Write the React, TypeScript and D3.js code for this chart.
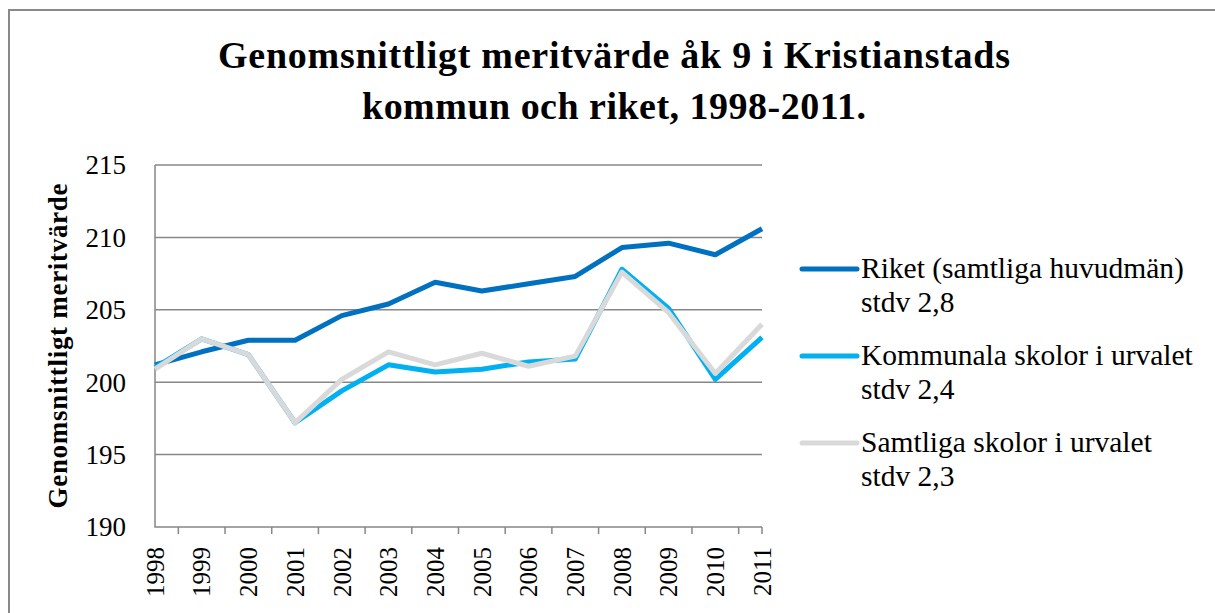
import React from "react";
import * as d3 from "d3";

// Data
const years = ["1998", "1999", "2000", "2001", "2002", "2003", "2004", "2005", "2006", "2007", "2008", "2009", "2010", "2011"];
const riket = [201.2, 202.1, 202.9, 202.9, 204.6, 205.4, 206.9, 206.3, 206.8, 207.3, 209.3, 209.6, 208.8, 210.6];
const kommunala = [201.0, 203.0, 201.9, 197.2, 199.4, 201.2, 200.7, 200.9, 201.4, 201.6, 207.8, 205.1, 200.2, 203.1];
const samtliga = [200.9, 203.0, 201.9, 197.2, 200.2, 202.1, 201.2, 202.0, 201.1, 201.8, 207.6, 204.8, 200.6, 204.0];
const yTicks = [190, 195, 200, 205, 210, 215];
const seriesNames = ["Riket (samtliga huvudmän)", "Kommunala skolor i urvalet", "Samtliga skolor i urvalet"];
const seriesStdv = ["stdv 2,8", "stdv 2,4", "stdv 2,3"];
const seriesColors = ["#0070C0", "#00B0F0", "#D9D9D9"];

const W = 1215;
const H = 613;
const serif = "Liberation Serif";
const gridColor = "#878787";

const left = 155, right = 762, top = 165, bottom = 527;
const x = d3.scalePoint<string>().domain(years).range([left, right]);
const y = d3.scaleLinear().domain([190, 215]).range([bottom, top]);
const line = d3.line<number>()
  .x((_, i) => x(years[i]) as number)
  .y(d => y(d));

export default function App() {
  const step = x.step();
  // ticks sit between categories, plus one at the far end
  const tickX = years.slice(0, -1).map(d => (x(d) as number) + step / 2).concat([right]);
  const legendY = [269, 356, 443];

  return (
    <svg width={W} height={H} style={{ position: "absolute", left: 0, top: 0, background: "#fff" }}>
      {/* outer chart border */}
      <path d={`M9,${H + 5}L9,10L${W + 5},10`} fill="none" stroke="#898989" strokeWidth={2} />

      {/* title */}
      <text textAnchor="middle" fontFamily={serif} fontWeight="bold" fontSize={38}>
        <tspan x={614} y={68} textLength={792} lengthAdjust="spacing">
          Genomsnittligt meritvärde åk 9 i Kristianstads
        </tspan>
        <tspan x={614} y={119} textLength={504} lengthAdjust="spacing">
          kommun och riket, 1998-2011.
        </tspan>
      </text>

      {/* gridlines */}
      {yTicks.filter(d => d > 190).map(d => (
        <line key={d} x1={left} x2={right} y1={y(d)} y2={y(d)} stroke={gridColor} strokeWidth={1.5} />
      ))}

      {/* y labels */}
      {yTicks.map(d => (
        <text key={d} x={126} y={y(d)} dy="0.35em" textAnchor="end" fontFamily={serif} fontSize={27}>
          {d}
        </text>
      ))}

      {/* y axis title */}
      <text
        transform={`translate(67, ${(top + bottom) / 2}) rotate(-90)`}
        textAnchor="middle"
        fontFamily={serif}
        fontWeight="bold"
        fontSize={27}
        textLength={325}
        lengthAdjust="spacing"
      >
        Genomsnittligt meritvärde
      </text>

      {/* axes */}
      <path d={`M${left},${top}L${left},${bottom}L${right},${bottom}`} fill="none" stroke={gridColor} strokeWidth={1.5} />
      {tickX.map((d, i) => (
        <line key={i} x1={d} x2={d} y1={bottom} y2={bottom + 7} stroke={gridColor} strokeWidth={1.5} />
      ))}

      {/* x labels */}
      {years.map(d => (
        <text
          key={d}
          transform={`translate(${x(d)}, 547) rotate(-90)`}
          dy="0.35em"
          textAnchor="end"
          fontFamily={serif}
          fontSize={25}
        >
          {d}
        </text>
      ))}

      {/* series */}
      {[riket, kommunala, samtliga].map((s, i) => (
        <path key={i} d={line(s) ?? ""} fill="none" stroke={seriesColors[i]} strokeWidth={5} strokeLinejoin="round" />
      ))}

      {/* legend */}
      {seriesNames.map((name, i) => (
        <g key={name}>
          <line x1={802} x2={857} y1={legendY[i]} y2={legendY[i]} stroke={seriesColors[i]} strokeWidth={5} strokeLinecap="round" />
          <text fontFamily={serif} fontSize={29.5}>
            <tspan x={861} y={legendY[i] + 9}>{name}</tspan>
            <tspan x={861} y={legendY[i] + 43}>{seriesStdv[i]}</tspan>
          </text>
        </g>
      ))}
    </svg>
  );
}
